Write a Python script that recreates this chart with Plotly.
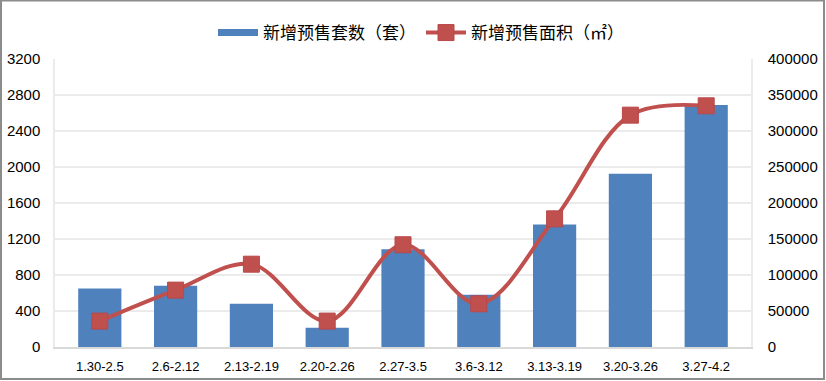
import plotly.graph_objects as go

categories = ["1.30-2.5", "2.6-2.12", "2.13-2.19", "2.20-2.26", "2.27-3.5",
              "3.6-3.12", "3.13-3.19", "3.20-3.26", "3.27-4.2"]
units = [650, 680, 480, 215, 1085, 580, 1360, 1925, 2690]
area = [36000, 79000, 115000, 36000, 142000, 60000, 178000, 322000, 335000]
left_ticks = [0, 400, 800, 1200, 1600, 2000, 2400, 2800, 3200]
right_ticks = [0, 50000, 100000, 150000, 200000, 250000, 300000, 350000, 400000]

W, H = 826, 381
ML, MR, MT, MB = 55, 75, 59, 34
PW, PH = W - ML - MR, H - MT - MB

BLUE = "#4F81BD"
RED = "#C0504D"
TICKFONT = dict(family="Liberation Sans, Arial, sans-serif", size=15, color="#000000")

fig = go.Figure()
fig.add_trace(go.Bar(
    x=categories, y=units, name="新增预售套数（套）",
    marker=dict(color=BLUE, line=dict(width=0)), yaxis="y", showlegend=False,
))
# legend sample drawn as a thick line, as in the source chart
fig.add_trace(go.Scatter(
    x=[None], y=[None], mode="lines", name="新增预售套数（套）",
    line=dict(color=BLUE, width=7), yaxis="y",
))
fig.add_trace(go.Scatter(
    x=categories, y=area, name="新增预售面积（㎡）", yaxis="y2",
    mode="lines+markers", line=dict(color=RED, width=4, shape="spline", smoothing=1.0),
    marker=dict(symbol="square", size=16, color=RED, line=dict(color="#B9474A", width=1)),
))

# outer frame
def px2x(p):
    return (p - ML) / PW

def px2y(p):
    return (H - MB - p) / PH

fig.add_shape(type="rect", xref="paper", yref="paper",
              x0=px2x(1), x1=px2x(W - 2), y0=px2y(H - 2), y1=px2y(0.5),
              line=dict(color="#8C8C8C", width=2), fillcolor="rgba(0,0,0,0)", layer="above")

fig.update_layout(
    width=W, height=H,
    margin=dict(l=ML, r=MR, t=MT, b=MB, pad=0, autoexpand=False),
    paper_bgcolor="white", plot_bgcolor="white",
    bargap=0.43,
    font=dict(family="Noto Sans CJK SC, sans-serif", size=17, color="#000000"),
    legend=dict(orientation="h", x=px2x(421), xanchor="center", y=px2y(33), yanchor="middle",
                font=dict(family="Noto Sans CJK SC, sans-serif", size=17),
                itemwidth=40, traceorder="normal"),
    xaxis=dict(
        type="category", showgrid=False, showline=True, linecolor="#D9D9D9", linewidth=2,
        ticks="", tickfont=dict(family="Liberation Sans, Arial, sans-serif", size=13),
        ticklabelstandoff=6, zeroline=False,
    ),
    yaxis=dict(
        range=[0, 3200], tickvals=left_ticks, ticktext=[str(v) for v in left_ticks],
        showgrid=True, gridcolor="#EBEBEB", gridwidth=1.5,
        showline=True, linecolor="#EBEBEB", linewidth=1.5,
        zeroline=False, ticks="", tickfont=TICKFONT, ticklabelstandoff=10,
    ),
    yaxis2=dict(
        range=[0, 400000], tickvals=right_ticks, ticktext=[str(v) for v in right_ticks],
        overlaying="y", side="right", showgrid=False,
        showline=True, linecolor="#EBEBEB", linewidth=1.5,
        zeroline=False, ticks="", tickfont=TICKFONT, ticklabelstandoff=12,
    ),
)

fig.write_html("out.html", config={"displayModeBar": False},
               post_script="document.body.style.margin='0';document.body.style.overflow='hidden';")
